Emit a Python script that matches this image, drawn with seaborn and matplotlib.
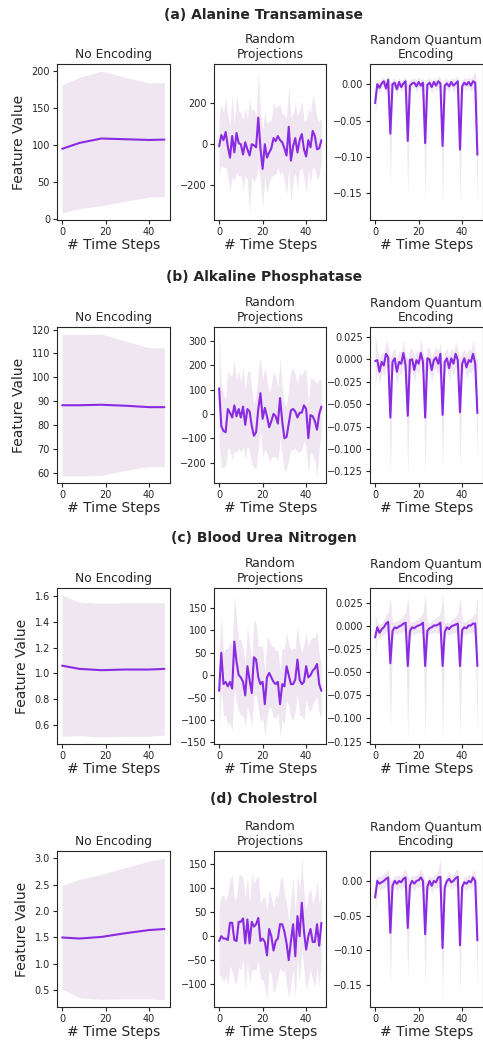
import numpy as np
import matplotlib
matplotlib.use("Agg")
import matplotlib.pyplot as plt
import seaborn as sns

sns.set_style("ticks")
plt.rcParams['font.family'] = ['DejaVu Sans']

# ---------------- data ----------------
row_titles = ["(a) Alanine Transaminase", "(b) Alkaline Phosphatase",
              "(c) Blood Urea Nitrogen", "(d) Cholestrol"]
col_titles = ["No Encoding", "Random\nProjections", "Random Quantum\nEncoding"]
x_label = "# Time Steps"
y_label = "Feature Value"

steps = list(range(48))
ne_steps = [0, 8, 18, 29, 40, 47]

# No Encoding (mean, std)
ne_a_mean = [95, 103, 109, 108, 107, 107.5]
ne_a_std = [87, 89, 91.5, 84, 77.5, 77.5]
ne_b_mean = [88.4, 88.4, 88.6, 88.2, 87.6, 87.6]
ne_b_std = [29.5, 29.5, 29.5, 27.0, 24.8, 24.8]
ne_c_mean = [1.06, 1.035, 1.025, 1.03, 1.03, 1.035]
ne_c_std = [0.55, 0.52, 0.52, 0.52, 0.52, 0.515]
ne_d_mean = [1.50, 1.48, 1.51, 1.58, 1.64, 1.66]
ne_d_std = [0.98, 1.12, 1.18, 1.24, 1.30, 1.34]

# Random Projections (mean, std)
rp_a_mean = [-10, 45, 20, 60, -10, -65, 40, -40, 55, 5, 0, -50, 10, -25, -55, 0,
             -5, -15, 130, -20, -120, 0, -65, -40, -20, 30, 15, 40, 20, 10, -20, -55,
             85, -80, -10, 30, -40, 20, 50, -25, -60, 20, -15, 65, 40, -25, -20, 20]
rp_a_std = [140, 150, 135, 170, 150, 160, 200, 140, 190, 160, 150, 170, 165, 150, 280, 160,
            180, 150, 227, 170, 190, 160, 170, 150, 140, 180, 160, 150, 170, 140, 160, 190,
            200, 210, 160, 170, 180, 150, 165, 140, 180, 150, 170, 175, 160, 150, 130, 110]
rp_b_mean = [105, -50, -70, -75, 20, 5, -15, 35, -10, 20, -15, 30, -45, 20, 10, -50,
             -90, -75, 20, 85, -20, 25, -10, -55, -30, 0, -10, -40, 65, -30, -100, -95,
             -40, 15, 20, 10, -15, 5, 5, 35, 20, -100, -5, -10, -30, -65, 0, 30]
rp_b_std = [223, 170, 150, 140, 160, 150, 175, 185, 150, 160, 145, 165, 140, 150, 170, 155,
            130, 150, 160, 148, 160, 170, 150, 140, 150, 175, 165, 150, 168, 140, 137, 130,
            150, 160, 170, 150, 140, 165, 150, 145, 160, 140, 150, 155, 165, 190, 140, 110]
rp_c_mean = [-35, 50, -20, -15, -25, -15, -30, 75, 30, 0, -5, -15, -45, 20, -10, -40,
             40, 35, -5, -20, -15, -65, -5, 5, -5, -15, -20, -15, -65, -20, -25, 20,
             0, -20, -20, -10, 35, -10, -20, -15, 20, -5, 0, 10, 15, 25, -20, -35]
rp_c_std = [90, 80, 70, 75, 85, 90, 95, 104, 90, 80, 85, 75, 70, 90, 80, 75,
            85, 80, 70, 85, 80, 70, 90, 75, 70, 80, 75, 70, 73, 80, 85, 75,
            70, 75, 80, 70, 75, 80, 70, 85, 75, 70, 80, 75, 70, 75, 65, 60]
rp_d_mean = [-10, 0, -5, -5, -8, 28, 28, -8, -10, 30, 30, 37, -15, 35, -15, 30,
             20, 25, 38, -10, -5, -12, -40, 15, 0, -30, -10, -5, 25, 25, 10, -15,
             -50, -10, 25, -42, 42, 0, 70, 10, -28, 0, 15, -12, -12, 25, -20, 28]
rp_d_std = [70, 85, 90, 80, 95, 90, 100, 85, 90, 95, 100, 85, 95, 90, 85, 100,
            90, 95, 88, 80, 85, 95, 93, 85, 80, 90, 95, 85, 90, 100, 80, 85,
            80, 90, 95, 85, 90, 95, 93, 80, 85, 90, 85, 80, 95, 90, 85, 75]

# Random Quantum Encoding (mean, std)
rq_a_mean = [-0.026, 0.000, -0.005, 0.001, 0.004, -0.006, 0.006, -0.068,
             0.000, 0.002, -0.007, 0.003, -0.004, 0.001, 0.004, -0.078,
             -0.002, 0.001, 0.002, -0.003, 0.003, -0.002, 0.002, -0.081,
             -0.001, 0.002, -0.004, 0.003, -0.002, 0.004, 0.001, -0.085,
             -0.002, 0.001, -0.003, 0.003, -0.002, 0.001, 0.004, -0.090,
             -0.003, 0.002, -0.001, 0.003, -0.002, 0.004, 0.002, -0.097]
rq_a_std = [0.025, 0.006, 0.008, 0.007, 0.006, 0.009, 0.007, 0.069,
            0.008, 0.006, 0.009, 0.007, 0.008, 0.006, 0.007, 0.076,
            0.008, 0.007, 0.006, 0.009, 0.007, 0.008, 0.006, 0.080,
            0.008, 0.007, 0.009, 0.006, 0.008, 0.007, 0.008, 0.080,
            0.009, 0.007, 0.008, 0.006, 0.009, 0.007, 0.008, 0.078,
            0.009, 0.007, 0.008, 0.007, 0.009, 0.008, 0.016, 0.080]
rq_b_mean = [-0.002, -0.001, -0.014, -0.003, -0.007, 0.006, 0.002, -0.065,
             -0.003, 0.001, -0.014, -0.003, -0.005, 0.007, -0.007, -0.063,
             -0.001, 0.000, -0.012, -0.001, -0.005, 0.007, -0.003, -0.065,
             0.001, 0.000, -0.012, -0.001, 0.002, -0.005, 0.006, -0.062,
             -0.003, 0.001, -0.010, 0.001, -0.005, 0.006, -0.001, -0.059,
             -0.005, 0.001, -0.009, -0.001, -0.003, 0.006, -0.005, -0.060]
rq_b_std = [0.030, 0.012, 0.014, 0.011, 0.013, 0.015, 0.012, 0.065,
            0.013, 0.011, 0.015, 0.012, 0.013, 0.014, 0.012, 0.065,
            0.012, 0.013, 0.014, 0.011, 0.013, 0.015, 0.012, 0.062,
            0.013, 0.012, 0.014, 0.011, 0.012, 0.014, 0.013, 0.057,
            0.012, 0.011, 0.014, 0.012, 0.013, 0.014, 0.012, 0.060,
            0.013, 0.011, 0.014, 0.012, 0.013, 0.015, 0.013, 0.058]
rq_c_mean = [-0.012, -0.001, -0.007, -0.003, -0.001, 0.003, 0.005, -0.040,
             -0.005, -0.001, -0.002, 0.000, 0.001, 0.003, 0.004, -0.043,
             -0.005, -0.001, -0.002, 0.000, 0.001, 0.002, 0.004, -0.043,
             -0.005, -0.002, -0.001, 0.001, 0.001, 0.002, 0.004, -0.043,
             -0.006, -0.001, -0.003, 0.000, 0.001, 0.002, 0.003, -0.043,
             -0.004, -0.001, -0.002, 0.001, 0.001, 0.003, 0.003, -0.043]
rq_c_std = [0.025, 0.006, 0.007, 0.007, 0.008, 0.009, 0.011, 0.071,
            0.009, 0.006, 0.007, 0.007, 0.008, 0.009, 0.011, 0.076,
            0.009, 0.006, 0.007, 0.007, 0.008, 0.009, 0.011, 0.077,
            0.009, 0.006, 0.007, 0.007, 0.008, 0.009, 0.011, 0.077,
            0.009, 0.006, 0.007, 0.007, 0.008, 0.009, 0.011, 0.076,
            0.009, 0.006, 0.007, 0.007, 0.008, 0.009, 0.011, 0.076]
rq_d_mean = [-0.024, 0.000, -0.004, -0.002, 0.000, 0.003, 0.005, -0.075,
             -0.007, 0.000, -0.004, 0.000, -0.002, 0.003, 0.005, -0.068,
             -0.007, 0.000, -0.004, 0.000, 0.001, 0.005, 0.000, -0.077,
             -0.009, 0.000, -0.007, 0.000, -0.002, 0.005, 0.006, -0.097,
             -0.009, 0.000, 0.003, -0.002, 0.000, 0.004, 0.006, -0.093,
             -0.009, -0.002, -0.004, 0.000, -0.002, 0.005, 0.000, -0.086]
rq_d_std = [0.026, 0.008, 0.010, 0.009, 0.011, 0.010, 0.012, 0.075,
            0.010, 0.008, 0.011, 0.009, 0.010, 0.011, 0.012, 0.075,
            0.010, 0.009, 0.011, 0.008, 0.010, 0.012, 0.011, 0.075,
            0.010, 0.008, 0.011, 0.009, 0.010, 0.012, 0.027, 0.075,
            0.010, 0.009, 0.011, 0.010, 0.009, 0.011, 0.012, 0.074,
            0.010, 0.008, 0.011, 0.009, 0.010, 0.012, 0.011, 0.077]

# y ticks of each panel
yt_a = [[0, 50, 100, 150, 200], [-200, 0, 200], [0.00, -0.05, -0.10, -0.15]]
yt_b = [[60, 70, 80, 90, 100, 110, 120], [-200, -100, 0, 100, 200, 300],
        [0.025, 0.0, -0.025, -0.05, -0.075, -0.1, -0.125]]
yt_c = [[0.6, 0.8, 1.0, 1.2, 1.4, 1.6], [-150, -100, -50, 0, 50, 100, 150],
        [0.025, 0.0, -0.025, -0.05, -0.075, -0.1, -0.125]]
yt_d = [[0.5, 1.0, 1.5, 2.0, 2.5, 3.0], [-100, -50, 0, 50, 100, 150],
        [0.00, -0.05, -0.10, -0.15]]
x_ticks = [0, 20, 40]

rows = [
    [(ne_steps, ne_a_mean, ne_a_std), (steps, rp_a_mean, rp_a_std), (steps, rq_a_mean, rq_a_std)],
    [(ne_steps, ne_b_mean, ne_b_std), (steps, rp_b_mean, rp_b_std), (steps, rq_b_mean, rq_b_std)],
    [(ne_steps, ne_c_mean, ne_c_std), (steps, rp_c_mean, rp_c_std), (steps, rq_c_mean, rq_c_std)],
    [(ne_steps, ne_d_mean, ne_d_std), (steps, rp_d_mean, rp_d_std), (steps, rq_d_mean, rq_d_std)],
]
yticks = [yt_a, yt_b, yt_c, yt_d]

LINE = "#8a2be2"
BAND = "#efe6f2"

W, H = 483, 1042
fig = plt.figure(figsize=(W / 100, H / 100), dpi=100)

col_left = [57, 214, 370]
ax_w = 112.5
row_top = [64, 327, 588, 851]
ax_h = 156
title_y = [15, 277, 538, 799]

for r in range(4):
    fig.text(264 / W, 1 - title_y[r] / H, row_titles[r], ha="center", va="center",
             fontsize=10, fontweight="bold")
    for c in range(3):
        ax = fig.add_axes([col_left[c] / W, 1 - (row_top[r] + ax_h) / H, ax_w / W, ax_h / H])
        x, m, s = rows[r][c]
        x = np.asarray(x); m = np.asarray(m, dtype=float); s = np.asarray(s, dtype=float)
        ax.fill_between(x, m - s, m + s, color=BAND, lw=0)
        sns.lineplot(x=x, y=m, ax=ax, color=LINE, lw=1.5)
        ax.set_title(col_titles[c], fontsize=8.8, pad=4)
        ax.set_xlabel(x_label, fontsize=10, labelpad=1)
        ax.set_ylabel(y_label if c == 0 else "", fontsize=10)
        ax.set_xticks(x_ticks)
        ax.set_yticks(yticks[r][c])
        ax.tick_params(labelsize=7, length=3, pad=2)
        ax.set_xlim(-2.35, 49.35)

fig.savefig("out.png", dpi=100)
